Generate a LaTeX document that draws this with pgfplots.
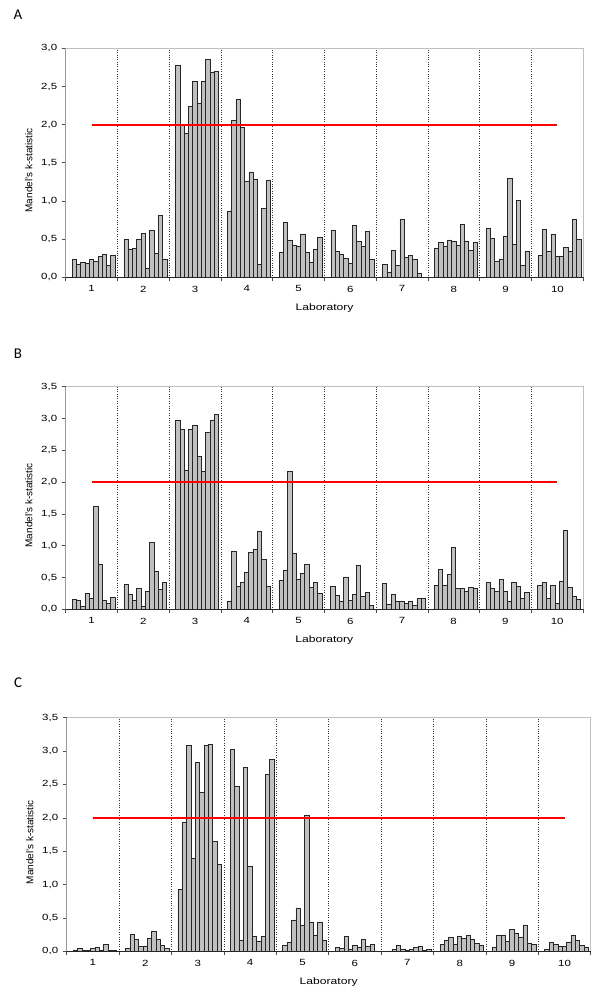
\documentclass[border=0pt]{standalone}
\usepackage{pgfplots}
\pgfplotsset{compat=1.18}
\usepackage{pgfplotstable}
\usepackage{fontspec}
\setmainfont{Liberation Sans}
\newfontfamily\panelfont{Carlito}
\newfontfamily\widefont[FakeStretch=1.28]{Liberation Sans}
\definecolor{barfill}{RGB}{192,192,192}

\pgfplotstableread{
lab b0 b1 b2 b3 b4 b5 b6 b7 b8 b9
1 0.23 0.17 0.20 0.18 0.23 0.21 0.27 0.30 0.16 0.29
2 0.50 0.37 0.38 0.50 0.58 0.12 0.62 0.31 0.81 0.24
3 2.78 2.01 1.89 2.24 2.57 2.28 2.57 2.85 2.69 2.70
4 0.87 2.06 2.33 1.96 1.26 1.38 1.29 0.17 0.90 1.27
5 0.33 0.72 0.49 0.42 0.41 0.57 0.33 0.20 0.37 0.53
6 0.62 0.34 0.30 0.25 0.19 0.68 0.47 0.41 0.60 0.23
7 0.17 0.07 0.35 0.16 0.76 0.26 0.29 0.24 0.05 0.00
8 0.38 0.46 0.41 0.49 0.47 0.42 0.69 0.47 0.35 0.46
9 0.64 0.51 0.21 0.24 0.54 1.30 0.43 1.01 0.16 0.34
10 0.29 0.63 0.34 0.56 0.28 0.28 0.39 0.34 0.76 0.50
}\tabA

\pgfplotstableread{
lab b0 b1 b2 b3 b4 b5 b6 b7 b8 b9
1 0.16 0.15 0.05 0.25 0.18 1.62 0.71 0.14 0.09 0.19
2 0.39 0.24 0.14 0.33 0.05 0.28 1.05 0.60 0.32 0.42
3 2.98 2.83 2.19 2.83 2.90 2.41 2.17 2.78 2.98 3.06
4 0.13 0.92 0.37 0.42 0.58 0.89 0.95 1.22 0.78 0.36
5 0.45 0.62 2.17 0.88 0.48 0.56 0.71 0.35 0.43 0.25
6 0.36 0.22 0.13 0.51 0.14 0.24 0.69 0.20 0.27 0.06
7 0.41 0.08 0.23 0.12 0.12 0.09 0.13 0.06 0.17 0.17
8 0.38 0.63 0.38 0.55 0.97 0.33 0.33 0.28 0.35 0.33
9 0.42 0.33 0.28 0.47 0.28 0.12 0.42 0.36 0.17 0.27
10 0.38 0.42 0.17 0.38 0.09 0.44 1.24 0.35 0.20 0.16
}\tabB

\pgfplotstableread{
lab b0 b1 b2 b3 b4 b5 b6 b7 b8 b9
1 0.02 0.05 0.02 0.01 0.05 0.06 0.02 0.10 0.02 0.01
2 0.05 0.25 0.18 0.075 0.08 0.20 0.30 0.18 0.09 0.05
3 0.93 1.93 3.09 1.39 2.83 2.38 3.09 3.10 1.65 1.30
4 3.02 2.48 0.17 2.76 1.27 0.23 0.15 0.23 2.65 2.88
5 0.095 0.135 0.47 0.65 0.39 2.04 0.44 0.245 0.44 0.16
6 0.06 0.045 0.22 0.03 0.095 0.065 0.175 0.075 0.105 0.005
7 0.005 0.03 0.09 0.03 0.015 0.03 0.06 0.075 0.015 0.03
8 0.105 0.16 0.215 0.11 0.23 0.19 0.245 0.18 0.12 0.095
9 0.065 0.245 0.245 0.15 0.33 0.275 0.215 0.395 0.125 0.105
10 0.03 0.135 0.105 0.07 0.075 0.14 0.245 0.16 0.09 0.065
}\tabC

\tikzset{axframe/.style={black!25, line width=0.8bp}}

\pgfplotsset{
  mandel/.style={
    scale only axis,
    xmin=0.5, xmax=10.5, ymin=0,
    axis x line*=bottom, axis y line*=left,
    x axis line style={black!85, line width=0.7bp},
    y axis line style={black!40, line width=0.7bp},
    tick align=outside,
    major tick length=4bp, minor tick length=4bp,
    tick style={black!70, line width=0.6bp},
    xtick={1.5,2.5,...,9.5}, xticklabels={},
    minor xtick={0.5,10.5},
    xmajorgrids, major grid style={black!80, dotted, line width=0.6bp},
    extra x ticks={1,2,3,4,5,6,7,8,9,10},
    extra x tick labels={1,2,3,4,5,6,7,8,9,10},
    extra x tick style={xmajorgrids=false, major tick length=0pt},
    ymajorgrids=false,
    ytick distance=0.5,
    /pgf/number format/assume math mode=true,
    tick label style={font=\widefont\fontsize{9}{10}\selectfont, text=black},
    xticklabel style={yshift=-5bp},
    yticklabel style={xshift=-1bp, /pgf/number format/.cd, fixed, fixed zerofill, precision=1, use comma},
    xlabel={Laboratory},
    ylabel={Mandel's k-statistic},
    xlabel style={font=\widefont\fontsize{9.5}{11}\selectfont, at={(axis description cs:0.5,0)}, anchor=center, yshift=-31bp},
    ylabel style={font=\fontsize{10}{12}\selectfont, at={(axis description cs:0,0.467)}, anchor=center, yshift=37bp},
    clip=false,
  },
  bars/.style={ybar, bar shift=0pt, bar width=0.083, fill=barfill, draw=black!85, line width=0.5bp, forget plot},
  limit/.style={red, line width=2bp, forget plot},
}

\begin{document}
\begin{tikzpicture}
\useasboundingbox (0,0) rectangle (600bp,1001bp);

\node[font=\panelfont\fontsize{15}{17}\selectfont] at (18bp,986bp) {A};
\node[font=\panelfont\fontsize{15}{17}\selectfont] at (18bp,647bp) {B};
\node[font=\panelfont\fontsize{15}{17}\selectfont] at (18bp,318bp) {C};

% Panel A
\begin{axis}[mandel, at={(65.7bp,723.7bp)}, anchor=south west,
  width=517.6bp, height=229bp, ymax=3]
\pgfplotsinvokeforeach{0,...,9}{
  \addplot[bars] table[x expr=\thisrow{lab}-0.336+0.083*#1, y=b#1]{\tabA};
}
\addplot[limit] coordinates {(1,2) (10,2)};
\draw[axframe] (rel axis cs:0,1) -- (rel axis cs:1,1) -- (rel axis cs:1,0);
\end{axis}

% Panel B
\begin{axis}[mandel, at={(65.7bp,391.7bp)}, anchor=south west,
  width=517.3bp, height=222.6bp, ymax=3.5]
\pgfplotsinvokeforeach{0,...,9}{
  \addplot[bars] table[x expr=\thisrow{lab}-0.336+0.083*#1, y=b#1]{\tabB};
}
\addplot[limit] coordinates {(1,2) (10,2)};
\draw[axframe] (rel axis cs:0,1) -- (rel axis cs:1,1) -- (rel axis cs:1,0);
\end{axis}

% Panel C
\begin{axis}[mandel, at={(66.7bp,49.7bp)}, anchor=south west,
  width=524bp, height=233.6bp, ymax=3.5]
\pgfplotsinvokeforeach{0,...,9}{
  \addplot[bars] table[x expr=\thisrow{lab}-0.336+0.083*#1, y=b#1]{\tabC};
}
\addplot[limit] coordinates {(1,2) (10,2)};
\draw[axframe] (rel axis cs:0,1) -- (rel axis cs:1,1) -- (rel axis cs:1,0);
\end{axis}
\end{tikzpicture}
\end{document}
